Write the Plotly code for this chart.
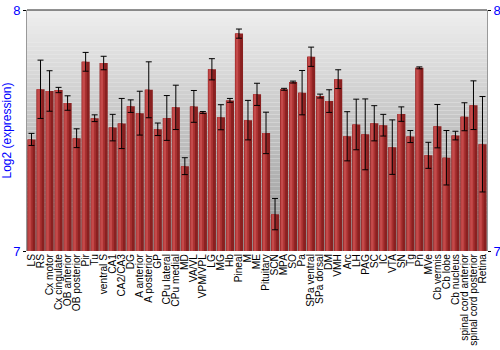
import plotly.graph_objects as go

categories = ["LS", "RS", "Cx motor", "Cx cingulate", "OB anterior", "OB posterior", "Pir", "Tu",
              "ventral S", "CA1", "CA2/CA3", "DG", "A anterior", "A posterior", "GP", "CPu lateral",
              "CPu medial", "MD", "VA/VL", "VPM/VPL", "LG", "MG", "Hb", "Pineal", "M", "ME",
              "Pituitary", "SCN", "MPA", "SO", "Pa", "SPa ventral", "SPa dorsal", "DM", "VMH",
              "Arc", "LH", "PAG", "SC", "IC", "VTA", "SN", "Tg", "Pn", "MVe", "Cb vermis",
              "Cb lobe", "Cb nucleus", "spinal cord anterior", "spinal cord posterior", "Retina"]

values = [7.463, 7.671, 7.664, 7.668, 7.614, 7.468, 7.785, 7.551, 7.780, 7.512, 7.529, 7.601,
          7.572, 7.669, 7.505, 7.552, 7.596, 7.352, 7.600, 7.575, 7.754, 7.555, 7.625, 7.902,
          7.543, 7.650, 7.490, 7.153, 7.671, 7.701, 7.657, 7.806, 7.643, 7.622, 7.713, 7.476,
          7.525, 7.484, 7.530, 7.522, 7.431, 7.568, 7.475, 7.760, 7.397, 7.518, 7.387, 7.479,
          7.557, 7.605, 7.443]

errors = [0.025, 0.121, 0.084, 0.011, 0.030, 0.039, 0.039, 0.014, 0.028, 0.055, 0.104, 0.026,
          0.091, 0.116, 0.026, 0.093, 0.092, 0.035, 0.066, 0.004, 0.044, 0.052, 0.008, 0.019,
          0.082, 0.046, 0.086, 0.065, 0.004, 0.004, 0.092, 0.040, 0.008, 0.047, 0.039, 0.102,
          0.105, 0.147, 0.073, 0.045, 0.113, 0.030, 0.025, 0.004, 0.054, 0.090, 0.113, 0.018,
          0.058, 0.101, 0.198]

y_ticks = [7, 8]
y_title = "Log2 (expression)"

FONT = "Liberation Sans, Arial, sans-serif"
BLUE = "#0000ff"

fig = go.Figure()

# bar body (darker right side)
fig.add_trace(go.Bar(x=categories, y=values, width=0.9, offset=-0.45,
                     marker=dict(color="#8a2020", line=dict(width=0)), showlegend=False,
                     hoverinfo="skip"))
# middle tone
fig.add_trace(go.Bar(x=categories, y=values, width=0.55, offset=-0.42,
                     marker=dict(color="#a83030", line=dict(width=0)), showlegend=False,
                     hoverinfo="skip"))
# highlight
fig.add_trace(go.Bar(x=categories, y=values, width=0.28, offset=-0.36,
                     marker=dict(color="#c44a4a", line=dict(width=0)), showlegend=False,
                     hoverinfo="skip"))
# error bars
fig.add_trace(go.Scatter(x=categories, y=values, mode="markers",
                         marker=dict(size=0.1, color="rgba(0,0,0,0)"),
                         error_y=dict(type="data", array=errors, color="#000000",
                                      thickness=1, width=3),
                         showlegend=False))
# invisible trace for right axis
fig.add_trace(go.Scatter(x=[categories[0]], y=[7.5], yaxis="y2", mode="markers",
                         marker=dict(size=0.1, color="rgba(0,0,0,0)"), showlegend=False,
                         hoverinfo="skip"))

# gradient background
n = 60
shapes = []
top_c = 238
bot_c = 150
for i in range(n):
    t = i / (n - 1)
    c = int(round(top_c + (bot_c - top_c) * t))
    shapes.append(dict(type="rect", xref="x domain", yref="y domain",
                       x0=0, x1=1, y0=1 - (i + 1) / n, y1=1 - i / n,
                       fillcolor=f"rgb({c},{c},{c})", line=dict(width=0), layer="below"))
shapes.append(dict(type="line", xref="x domain", yref="y domain", x0=0, x1=1, y0=1, y1=1,
                   line=dict(color="#222222", width=1), layer="above"))

fig.update_layout(
    width=500, height=350,
    margin=dict(l=27, r=13, t=10, b=99),
    paper_bgcolor="white",
    plot_bgcolor="rgba(0,0,0,0)",
    barmode="overlay",
    bargap=0.1,
    shapes=shapes,
    font=dict(family=FONT, size=11, color="#000000"),
    xaxis=dict(tickangle=-90, tickfont=dict(family=FONT, size=10.2, color="#000000"),
               tickmode="array", tickvals=categories, ticktext=categories,
               showgrid=False, showline=False, ticks="", automargin=False,
               ticklabelstandoff=0,
               range=[-0.5, len(categories) - 0.5]),
    yaxis=dict(range=[7, 8], tickvals=y_ticks, ticktext=[str(v) for v in y_ticks],
               tickfont=dict(family=FONT, size=13, color=BLUE),
               title=dict(text=y_title, font=dict(family=FONT, size=12, color=BLUE), standoff=5),
               showgrid=False, zeroline=False, showline=True, linecolor="#999999",
               ticks="outside", ticklen=3, tickcolor="#000000", automargin=False),
    yaxis2=dict(range=[7, 8], tickvals=y_ticks, ticktext=[str(v) for v in y_ticks],
                overlaying="y", side="right", showgrid=False, zeroline=False,
                tickfont=dict(family=FONT, size=13, color=BLUE),
                showline=True, linecolor="#999999", ticks="outside", ticklen=3,
                tickcolor="#000000", automargin=False),
)

fig.write_html("out.html")
